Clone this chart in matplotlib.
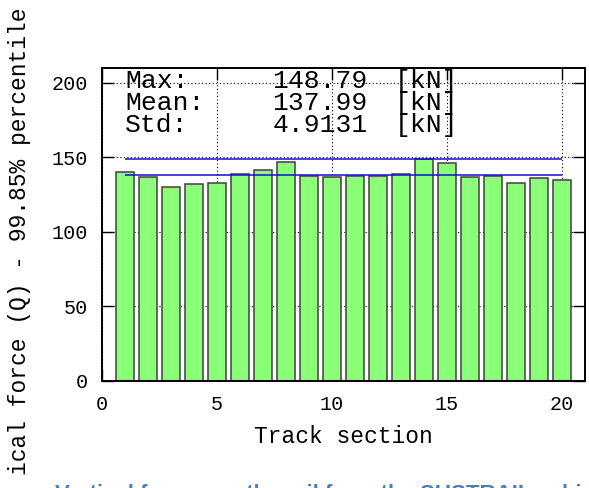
import numpy as np
import matplotlib
matplotlib.use("Agg")
import matplotlib.pyplot as plt
from matplotlib.patches import Rectangle

# Per-section 99.85% percentile of vertical wheel force [kN]
sections = list(range(1, 21))
q_values = [140.4, 136.7, 129.9, 132.3, 132.8, 138.6, 141.3, 147.1, 137.7, 136.8,
            137.7, 137.3, 138.6, 148.79, 146.0, 136.6, 137.4, 132.6, 136.0, 134.7]

# Summary statistics shown in the annotation block
stat_names = ["Max:", "Mean:", "Std:"]
stat_values = [148.79, 137.99, 4.9131]
stat_texts = ["148.79", "137.99", "4.9131"]
stat_unit = "[kN]"

x_ticks = [0, 5, 10, 15, 20]
y_ticks = [0, 50, 100, 150, 200]

ylabel_text = "Vertical force (Q) - 99.85% percentile"
xlabel_text = "Track section"
caption_text = "Vertical forces on the rail from the SUSTRAIL vehicle"

W, H = 589, 488
mono = "Liberation Mono"

fig = plt.figure(figsize=(W / 100, H / 100), dpi=100)
ax = fig.add_axes([102 / W, (H - 381) / H, (585 - 102) / W, (381 - 68) / H])

ax.set_xlim(0, 21)
ax.set_ylim(0, 210)

ax.bar(sections, q_values, width=0.8, color="#8cff78",
       edgecolor="#404040", linewidth=1.1, zorder=2)

# max / mean reference lines
ax.hlines([stat_values[0], stat_values[1]], sections[0], sections[-1],
          colors="#1010d0", linewidth=1.1, zorder=3)

ax.set_axisbelow(True)
ax.grid(True, color="black", linestyle=(0, (1, 2.2)), linewidth=0.8)

ax.set_xticks(x_ticks)
ax.set_yticks(y_ticks)
ax.tick_params(direction="in", length=8.5, width=1.0, top=True, right=True,
               labelsize=14.5, pad=10)
for lab in ax.get_xticklabels() + ax.get_yticklabels():
    lab.set_fontfamily(mono)
for sp in ax.spines.values():
    sp.set_linewidth(1.4)

ax.set_xlabel(xlabel_text, fontfamily=mono, fontsize=16.5, labelpad=8)

# annotation block in data coordinates
rows_y = [201.5, 186.3, 171.5]
for name, txt, yy in zip(stat_names, stat_texts, rows_y):
    ax.text(1.0, yy, name, fontfamily=mono, fontsize=19, va="center", ha="left", zorder=4)
    ax.text(7.4, yy, txt, fontfamily=mono, fontsize=19, va="center", ha="left", zorder=4)
    ax.text(12.75, yy, stat_unit, fontfamily=mono, fontsize=19, va="center", ha="left", zorder=4)

# rotated y label, running off the lower edge
fig.text(20 / W, 1 - 8 / H, ylabel_text, rotation=90, ha="center", va="top",
         fontfamily=mono, fontsize=16.5, zorder=1)

# strip below the chart and the caption of the surrounding page
fig.patches.append(Rectangle((0, 0), 1, (H - 477) / H, transform=fig.transFigure,
                             facecolor="white", edgecolor="none", zorder=5))
fig.text(55 / W, 1 - 484 / H, caption_text, ha="left", va="top",
         fontfamily="Liberation Sans", fontweight="bold", fontsize=16,
         color="#4a7ebb", zorder=6)

fig.savefig("out.png", dpi=100)
